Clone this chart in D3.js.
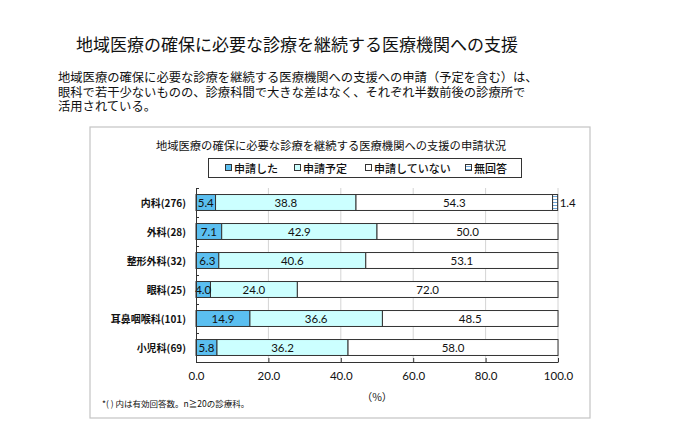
<!DOCTYPE html>
<html>
<head>
<meta charset="utf-8">
<script src="https://cdn.jsdelivr.net/npm/d3@7"></script>
<style>
  body { margin: 0; background: #fff; }
  svg { display: block; }
  text { font-family: "Noto Sans CJK JP", sans-serif; fill: #111; }
  .num { font-family: Lato, "Open Sans", sans-serif; }
</style>
</head>
<body>
<svg id="chart" width="680" height="429"></svg>
<script>
// Data.
const categories = ["内科(276)", "外科(28)", "整形外科(32)", "眼科(25)", "耳鼻咽喉科(101)", "小児科(69)"];
const seriesNames = ["申請した", "申請予定", "申請していない", "無回答"];
const applied   = [5.4, 7.1, 6.3, 4.0, 14.9, 5.8];
const planned   = [38.8, 42.9, 40.6, 24.0, 36.6, 36.2];
const notApplied = [54.3, 50.0, 53.1, 72.0, 48.5, 58.0];
const noAnswer  = [1.4, 0, 0, 0, 0, 0];
const xTicks = [0, 20, 40, 60, 80, 100];

const mainTitle = "地域医療の確保に必要な診療を継続する医療機関への支援";
const subLines = [
  "地域医療の確保に必要な診療を継続する医療機関への支援への申請（予定を含む）は、",
  "眼科で若干少ないものの、診療科間で大きな差はなく、それぞれ半数前後の診療所で",
  "活用されている。"
];
const chartTitle = "地域医療の確保に必要な診療を継続する医療機関への支援の申請状況";
const footnote = "*( ) 内は有効回答数。n≧20の診療科。";

const svg = d3.select("#chart");

// Stripe pattern for "no answer".
const defs = svg.append("defs");
const pat = defs.append("pattern")
  .attr("id", "stripes")
  .attr("patternUnits", "userSpaceOnUse")
  .attr("width", 4).attr("height", 3);
pat.append("rect").attr("width", 4).attr("height", 3).attr("fill", "#fff");
pat.append("rect").attr("y", 1).attr("width", 4).attr("height", 1).attr("fill", "#6ea6d8");

const colors = ["#5bbff0", "#ccffff", "#ffffff", "url(#stripes)"];

// Page heading and description.
svg.append("text")
  .attr("x", 297).attr("y", 43)
  .attr("text-anchor", "middle").attr("dominant-baseline", "central")
  .style("font-size", "17px")
  .text(mainTitle);

svg.selectAll(".sub")
  .data(subLines)
  .join("text")
  .attr("class", "sub")
  .attr("x", 58)
  .attr("y", (d, i) => 77 + i * 14.7)
  .attr("dominant-baseline", "central")
  .style("font-size", "12.3px")
  .text(d => d);

// Chart frame.
svg.append("rect")
  .attr("x", 90).attr("y", 127).attr("width", 500).attr("height", 291)
  .attr("fill", "#fff").attr("stroke", "#c4c4c4").attr("stroke-width", 1.2);

svg.append("text")
  .attr("x", 331).attr("y", 145)
  .attr("text-anchor", "middle").attr("dominant-baseline", "central")
  .style("font-size", "11.3px")
  .text(chartTitle);

// Legend.
svg.append("rect")
  .attr("x", 208.5).attr("y", 158.5).attr("width", 313).attr("height", 19)
  .attr("fill", "#fff").attr("stroke", "#333").attr("stroke-width", 1);

const legendX = [225, 294, 365, 465];
const legend = svg.selectAll(".legend")
  .data(seriesNames)
  .join("g")
  .attr("class", "legend")
  .attr("transform", (d, i) => `translate(${legendX[i]},168)`);
legend.append("rect")
  .attr("x", 0.5).attr("y", -3.5).attr("width", 6).attr("height", 6)
  .attr("fill", (d, i) => colors[i]).attr("stroke", "#333").attr("stroke-width", 1);
legend.append("text")
  .attr("x", 9).attr("dominant-baseline", "central")
  .style("font-size", "11px")
  .style("font-weight", 500)
  .text(d => d);

// Scales.
const plot = { left: 196, right: 558, top: 188, bottom: 362 };
const x = d3.scaleLinear().domain([0, 100]).range([plot.left, plot.right]);
const y = d3.scaleBand().domain(categories)
  .range([plot.top, plot.bottom])
  .paddingInner(0.45).paddingOuter(0.225);

// Gridlines.
svg.append("g")
  .selectAll("line")
  .data(xTicks.slice(1))
  .join("line")
  .attr("x1", d => x(d)).attr("x2", d => x(d))
  .attr("y1", plot.top).attr("y2", plot.bottom)
  .attr("stroke", "#d4d4d4").attr("stroke-width", 1);

// Stacked bars.
const rows = categories.map((c, i) => ({
  cat: c,
  vals: [applied[i], planned[i], notApplied[i], noAnswer[i]]
}));
rows.forEach(r => {
  let acc = 0;
  r.segs = r.vals.map((v, k) => {
    const s = { cat: r.cat, k, v, x0: acc, x1: acc + v };
    acc += v;
    return s;
  });
});
const segs = rows.flatMap(r => r.segs).filter(s => s.v > 0);

svg.append("g")
  .selectAll("rect")
  .data(segs)
  .join("rect")
  .attr("x", d => x(d.x0))
  .attr("y", d => y(d.cat))
  .attr("width", d => x(d.x1) - x(d.x0))
  .attr("height", y.bandwidth())
  .attr("fill", d => colors[d.k])
  .attr("stroke", "#333").attr("stroke-width", 1);

// Value labels.
svg.append("g")
  .selectAll("text")
  .data(segs)
  .join("text")
  .attr("class", "num")
  .attr("x", d => d.k === 3 ? x(d.x1) + 2 : (x(d.x0) + x(d.x1)) / 2)
  .attr("y", d => y(d.cat) + y.bandwidth() / 2)
  .attr("text-anchor", d => d.k === 3 ? "start" : "middle")
  .attr("dominant-baseline", "central")
  .style("font-size", "11.5px")
  .text(d => d.v.toFixed(1));

// Left axis with ticks between categories.
const yEdge = d3.scaleLinear().domain([0, categories.length]).range([plot.top, plot.bottom]);
const yAxis = svg.append("g")
  .attr("transform", `translate(${plot.left},0)`)
  .call(d3.axisLeft(yEdge).ticks(categories.length).tickSizeInner(-3).tickSizeOuter(-3).tickFormat(""));
yAxis.select(".domain").attr("stroke", "#333");
yAxis.selectAll(".tick line").attr("stroke", "#333");

svg.append("g")
  .selectAll("text")
  .data(categories)
  .join("text")
  .attr("x", 186)
  .attr("y", d => y(d) + y.bandwidth() / 2)
  .attr("text-anchor", "end")
  .attr("dominant-baseline", "central")
  .style("font-size", "10px")
  .style("font-weight", 600)
  .text(d => d);

// Bottom axis.
const xAxis = svg.append("g")
  .attr("transform", `translate(0,${plot.bottom})`)
  .call(d3.axisBottom(x).tickValues(xTicks).tickSizeInner(-4).tickSizeOuter(0)
    .tickPadding(10).tickFormat(d3.format(".1f")));
xAxis.select(".domain").attr("stroke", "#333");
xAxis.selectAll(".tick line").attr("stroke", "#333");
xAxis.selectAll(".tick text")
  .attr("class", "num")
  .style("font-size", "11.5px")
  .style("fill", "#111");

svg.append("text")
  .attr("x", 377).attr("y", 396)
  .attr("text-anchor", "middle").attr("dominant-baseline", "central")
  .style("font-size", "10.5px")
  .text("（%）");

svg.append("text")
  .attr("x", 102).attr("y", 403)
  .attr("dominant-baseline", "central")
  .style("font-size", "8.5px")
  .text(footnote);
</script>
</body>
</html>
